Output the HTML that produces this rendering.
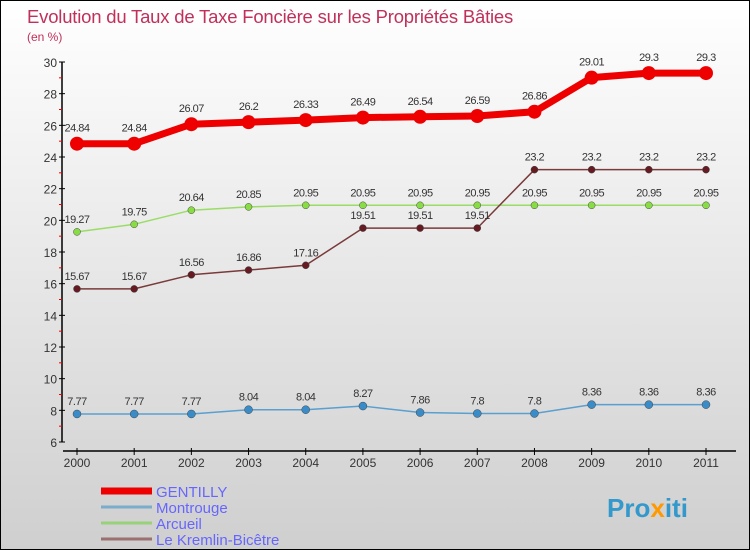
<!DOCTYPE html>
<html><head><meta charset="utf-8"><style>
body{margin:0}
#c{width:750px;height:550px;position:relative;overflow:hidden;box-sizing:border-box;border:1px solid #000;background:linear-gradient(#ffffff,#cfcfcf);font-family:"Liberation Sans",sans-serif}
svg text{font-family:"Liberation Sans",sans-serif}
</style></head><body>
<div id="c">
<svg id="s" width="750" height="550">
<text x="26" y="22" font-size="18.5" letter-spacing="-0.2" fill="#c0305a">Evolution du Taux de Taxe Foncière sur les Propriétés Bâties</text>
<text x="26" y="40" font-size="12" fill="#c0305a">(en %)</text>
<text x="606" y="516" font-size="26" font-weight="bold" fill="#3399cc">Pro<tspan fill="#ff9900">x</tspan>iti</text>
</svg>
</div>
<script>
const years=[2000,2001,2002,2003,2004,2005,2006,2007,2008,2009,2010,2011];
const gentilly=[24.84,24.84,26.07,26.2,26.33,26.49,26.54,26.59,26.86,29.01,29.3,29.3];
const montrouge=[7.77,7.77,7.77,8.04,8.04,8.27,7.86,7.8,7.8,8.36,8.36,8.36];
const arcueil=[19.27,19.75,20.64,20.85,20.95,20.95,20.95,20.95,20.95,20.95,20.95,20.95];
const kremlin=[15.67,15.67,16.56,16.86,17.16,19.51,19.51,19.51,23.2,23.2,23.2,23.2];
const yTicks=[6,8,10,12,14,16,18,20,22,24,26,28,30];
const names=["GENTILLY","Montrouge","Arcueil","Le Kremlin-Bicêtre"];
const NS="http://www.w3.org/2000/svg",s=document.getElementById('s');
const X=i=>76+i*(705-76)/(years.length-1);
const Y=v=>441-(v-6)*(441-61)/24;
function mk(t,a,p){const e=document.createElementNS(NS,t);for(const k in a)e.setAttribute(k,a[k]);(p||s).appendChild(e);return e;}
let ax=mk('line',{x1:61,y1:61,x2:61,y2:441,stroke:'#000','stroke-width':1.5});


let xa=mk('line',{x1:62,y1:450,x2:735,y2:450,stroke:'#000','stroke-width':1.5});


yTicks.forEach((v,i)=>{
 mk('line',{x1:58,x2:64,y1:Y(v),y2:Y(v),stroke:'#000'});
 if(i<yTicks.length-1)mk('line',{x1:58,x2:61,y1:Y(v+1),y2:Y(v+1),stroke:'#e00'});
 const t=mk('text',{x:56,y:Y(v)+5,'text-anchor':'end','font-size':12,fill:'#333'});t.textContent=v;
 
 
});
years.forEach((y,i)=>{
 mk('line',{x1:X(i),x2:X(i),y1:447,y2:454,stroke:'#000'});
 const t=mk('text',{x:X(i),y:466,'text-anchor':'middle','font-size':12,fill:'#333'});t.textContent=y;
 
 
});
function series(d,col,w,r,dot,name){
 const g=mk('g',{});
 
 
 mk('polyline',{points:d.map((v,i)=>X(i)+','+Y(v)).join(' '),fill:'none',stroke:col,'stroke-width':w,'stroke-linejoin':'round'},g);
 d.forEach((v,i)=>{
  const c=mk('circle',{cx:X(i),cy:Y(v),r:r,fill:dot,stroke:'#444','stroke-width':r>5?0:0.5},g);
  
  
  const t=mk('text',{x:X(i),y:Y(v)-(r>5?12:9),'text-anchor':'middle','font-size':11,fill:'#333','letter-spacing':'-0.5'},g);t.textContent=v;
 });
}
series(montrouge,'#5a9fd0',1.5,4,'#3a8cc8','series-montrouge');
series(arcueil,'#99dd66',1.5,3.5,'#88dd44','series-arcueil');
series(kremlin,'#7a3a3a',1.5,3.5,'#661a22','series-kremlin-bicetre');
series(gentilly,'#ee0000',7,7,'#ee0000','series-gentilly');
const lc=['#ee0000','#7aaccc','#99d07a','#9a7070'],lw=[7,3,3,3];
names.forEach((n,i)=>{
 const y=490+i*16;
 const l=mk('line',{x1:100,x2:151,y1:y,y2:y,stroke:lc[i],'stroke-width':lw[i]});
 
 
 const t=mk('text',{x:155,y:y+6,'font-size':15,fill:'#6666ff'});t.textContent=n;
 
 
});
</script>
</body></html>
